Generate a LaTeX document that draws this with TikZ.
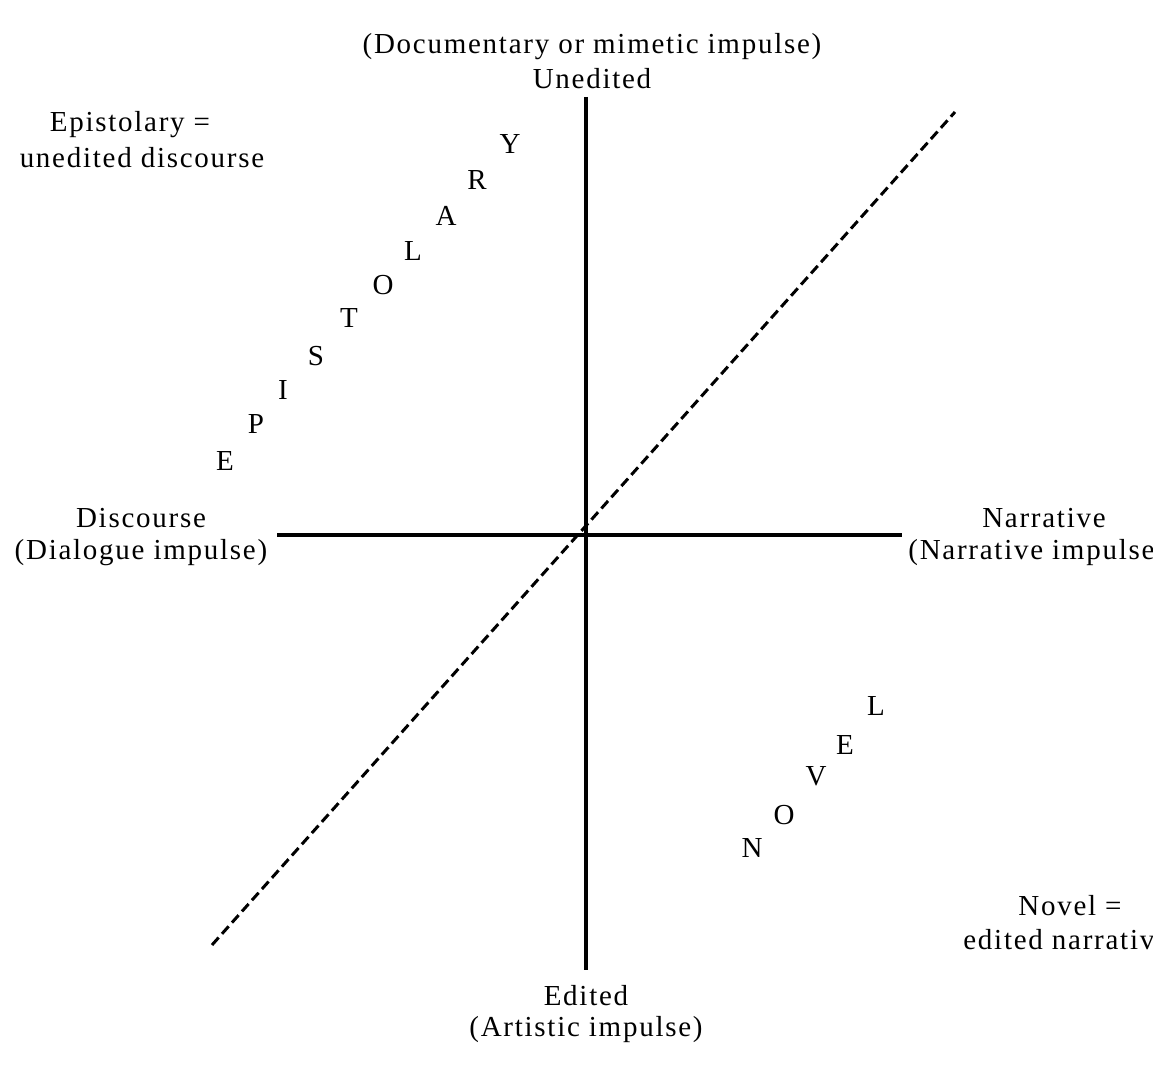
\documentclass[tikz,border=0pt]{standalone}
\usepackage{fontspec}
\setmainfont{Liberation Serif}[LetterSpace=6]
\begin{document}
\begin{tikzpicture}[x=0.5pt,y=-0.5pt,
  lab/.style={font=\fontsize{14.5}{17}\selectfont,inner sep=0pt},
  axis/.style={line width=1.6pt},
  diag/.style={line width=1.5pt,dash pattern=on 5pt off 2.5pt}]
\useasboundingbox[fill=white] (0,0) rectangle (1153,1075);
\coordinate (top) at (586,97); \coordinate (bot) at (586,970);
\coordinate (lft) at (277,535); \coordinate (rgt) at (902,535);
\coordinate (dl) at (212,945); \coordinate (ur) at (955,112);
\draw[axis] (top) -- (bot);
\draw[axis] (lft) -- (rgt);
\draw[diag] (dl) -- (ur);
\node[lab] (t1) at (592,47) {(Documentary or mimetic impulse)};
\node[lab] (t2) at (592,79) {Unedited};
\node[lab] (e1) at (130,125) {Epistolary =};
\node[lab] (e2) at (142,158) {unedited discourse};
\node[lab] (d1) at (141,518) {Discourse};
\node[lab] (d2) at (141,553) {(Dialogue impulse)};
\node[lab] (n1) at (1044,518) {Narrative};
\node[lab,anchor=west] (n2) at (908,553) {(Narrative impulse)};
\node[lab] (v1) at (1070,906) {Novel =};
\node[lab,anchor=west] (v2) at (963,940) {edited narrative};
\node[lab] (b1) at (586,996) {Edited};
\node[lab] (b2) at (586,1030) {(Artistic impulse)};
\foreach \c/\x/\y [count=\i] in {E/225/461,P/256/424,I/283/390,S/316/356,T/349/318,O/383/285,L/413/251,A/446/216,R/477/180,Y/510/144}
  \node[lab] (ep\i) at (\x,\y) {\c};
\foreach \c/\x/\y [count=\i] in {N/752/848,O/784/815,V/816/776,E/845/745,L/876/706}
  \node[lab] (nv\i) at (\x,\y) {\c};
\end{tikzpicture}
\end{document}
